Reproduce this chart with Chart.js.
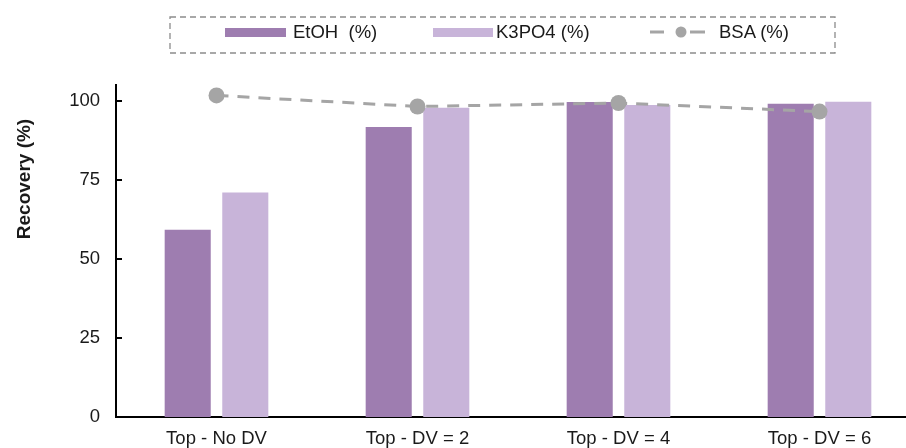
<!DOCTYPE html>
<html>
<head>
<meta charset="utf-8">
<script src="https://cdn.jsdelivr.net/npm/chart.js@4/dist/chart.umd.min.js"></script>
<style>
  body { margin: 0; background: #fff; }
  #wrap { position: relative; width: 906px; height: 448px; overflow: hidden; font-family: "Liberation Sans", Arial, sans-serif; color: #1a1a1a; }
  #chart { position: absolute; left: 0; top: 0; }
  .lg { position: absolute; }
  .lg-text { font-size: 18.5px; line-height: 20px; top: 22px; white-space: pre; }
  #ytitle { position: absolute; left: -76px; top: 168px; width: 200px; height: 22px; line-height: 22px; text-align: center;
            font-weight: bold; font-size: 19px; transform: rotate(-90deg); transform-origin: 50% 50%; }
</style>
</head>
<body>
<div id="wrap">
  <canvas id="chart" width="928" height="448"></canvas>
  <svg class="lg" style="left:169px;top:16px" width="668" height="39">
    <rect x="1" y="1" width="665" height="36" fill="none" stroke="#8c8c8c" stroke-width="1.3" stroke-dasharray="6 4"/>
  </svg>
  <div id="legend"></div>
  <div id="ytitle">Recovery (%)</div>
</div>
<script>
const categories = ['Top - No DV', 'Top - DV = 2', 'Top - DV = 4', 'Top - DV = 6'];
const etohValues = [59.2, 91.7, 99.6, 99.1];
const k3po4Values = [71.0, 97.8, 98.7, 99.7];
const bsaValues = [101.7, 98.2, 99.3, 96.6];
const yTicks = [0, 25, 50, 75, 100];
const seriesNames = ['EtOH  (%)', 'K3PO4 (%)', 'BSA (%)'];

const etohColor = '#9e7db0';
const k3po4Color = '#c8b4d9';
const bsaColor = '#a5a5a5';

// legend built by hand, the frame around it is dashed
function buildLegend() {
  const legend = document.getElementById('legend');
  const items = [
    { swatch: `<div class="lg" style="left:225px;top:28px;width:61px;height:9px;background:${etohColor}"></div>`, textLeft: 293 },
    { swatch: `<div class="lg" style="left:433px;top:28px;width:60px;height:9px;background:${k3po4Color}"></div>`, textLeft: 496 },
    { swatch: `<svg class="lg" style="left:650px;top:22px" width="56" height="20">
        <line x1="0" y1="10" x2="14" y2="10" stroke="${bsaColor}" stroke-width="3"/>
        <line x1="40" y1="10" x2="55" y2="10" stroke="${bsaColor}" stroke-width="3"/>
        <circle cx="31" cy="10" r="5.5" fill="${bsaColor}"/></svg>`, textLeft: 719 }
  ];
  let html = '';
  items.forEach((item, i) => {
    html += item.swatch;
    html += `<div class="lg lg-text" style="left:${item.textLeft}px">${seriesNames[i]}</div>`;
  });
  legend.innerHTML = html;
}
buildLegend();

// small ticks pointing into the plot
const innerTicks = {
  id: 'innerTicks',
  afterDraw(chart) {
    const { ctx, chartArea } = chart;
    const y = chart.scales.y;
    ctx.save();
    ctx.strokeStyle = '#000';
    ctx.lineWidth = 2;
    yTicks.forEach(v => {
      const py = Math.round(y.getPixelForValue(v));
      ctx.beginPath();
      ctx.moveTo(chartArea.left, py);
      ctx.lineTo(chartArea.left + 6, py);
      ctx.stroke();
    });
    ctx.restore();
  }
};

const ctx = document.getElementById('chart').getContext('2d');
new Chart(ctx, {
  type: 'bar',
  data: {
    labels: categories,
    datasets: [
      {
        type: 'line',
        label: seriesNames[2],
        data: bsaValues,
        borderColor: bsaColor,
        backgroundColor: bsaColor,
        borderWidth: 3,
        borderDash: [12, 9],
        pointRadius: 8,
        pointBackgroundColor: bsaColor,
        pointBorderWidth: 0,
        fill: false,
        tension: 0,
        order: 0
      },
      {
        label: seriesNames[0],
        data: etohValues,
        backgroundColor: etohColor,
        categoryPercentage: 0.573,
        barPercentage: 0.8,
        order: 1
      },
      {
        label: seriesNames[1],
        data: k3po4Values,
        backgroundColor: k3po4Color,
        categoryPercentage: 0.573,
        barPercentage: 0.8,
        order: 1
      }
    ]
  },
  options: {
    responsive: false,
    animation: false,
    layout: { padding: { top: 85, left: 0, right: 0, bottom: 0 } },
    plugins: {
      legend: { display: false },
      tooltip: { enabled: false }
    },
    scales: {
      x: {
        offset: true,
        grid: { display: false, drawTicks: false },
        border: { display: true, color: '#000', width: 2 },
        ticks: {
          color: '#1a1a1a',
          padding: 11,
          maxRotation: 0,
          autoSkip: false,
          font: { family: 'Liberation Sans', size: 18.5 }
        },
        afterFit: scale => { scale.height = 31; }
      },
      y: {
        min: 0,
        max: 105,
        grid: { display: false, drawTicks: false },
        border: { display: true, color: '#000', width: 2 },
        ticks: {
          stepSize: 25,
          includeBounds: false,
          color: '#1a1a1a',
          padding: 16,
          font: { family: 'Liberation Sans', size: 18.5 }
        },
        afterFit: scale => { scale.width = 116; }
      }
    }
  },
  plugins: [innerTicks]
});
</script>
</body>
</html>
